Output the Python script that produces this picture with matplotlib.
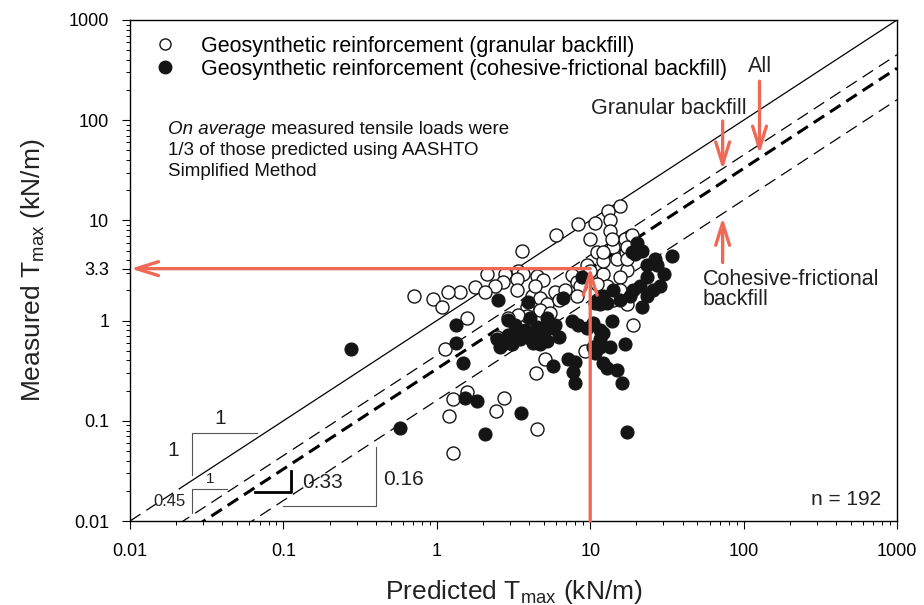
import numpy as np
import matplotlib.pyplot as plt
from matplotlib.lines import Line2D

plt.rcParams['font.family'] = ['Liberation Sans', 'DejaVu Sans']
plt.rcParams['mathtext.fontset'] = 'custom'
plt.rcParams['mathtext.rm'] = 'Liberation Sans'
plt.rcParams['lines.scale_dashes'] = False

RED = '#EF6A56'

# Geosynthetic reinforcement, granular backfill (predicted, measured) kN/m
gran_x = [15.6, 13.0, 13.4, 10.7, 8.3, 5.96, 9.9, 13.4, 16.8, 18.6,
          3.58, 11.0, 14.0, 14.9, 17.5, 9.5, 12.1, 15.6, 2.12, 2.77,
          3.37, 3.63, 4.48, 4.91, 2.69, 3.32, 2.39, 1.77, 1.41, 1.18,
          0.94, 1.08, 0.71, 3.32, 4.16, 5.87, 7.57, 8.17, 8.55, 8.17,
          4.69, 3.86, 5.21, 4.69, 3.86, 3.37, 2.90, 1.57, 2.46, 1.13,
          17.3, 18.9, 9.2, 5.05, 4.42, 1.57, 1.27, 2.73, 2.42, 1.20,
          4.48, 1.27, 6.3, 5.45, 2.05, 4.35, 14.0, 12.8, 17.2, 13.8,
          12.1, 9.9, 11.0, 15.6, 6.8, 17.3, 17.3, 12.1]
gran_y = [13.8, 12.3, 10.2, 9.5, 9.3, 7.2, 6.5, 7.8, 6.5, 7.2,
          4.9, 4.8, 5.4, 4.1, 3.2, 3.6, 2.9, 2.7, 2.95, 2.95,
          3.1, 2.95, 2.8, 2.57, 2.45, 2.63, 2.19, 2.14, 1.91, 1.91,
          1.66, 1.38, 1.78, 2.04, 1.74, 1.95, 2.88, 2.45, 2.19, 1.74,
          1.70, 1.38, 1.45, 1.29, 1.10, 1.15, 1.07, 1.07, 0.69, 0.52,
          1.45, 0.91, 0.50, 0.41, 0.30, 0.195, 0.166, 0.17, 0.126, 0.112,
          0.083, 0.048, 1.62, 1.20, 1.95, 2.19, 1.62, 2.19, 4.8, 6.5,
          3.9, 3.1, 2.3, 2.04, 2.04, 5.4, 4.1, 4.8]

# Geosynthetic reinforcement, cohesive-frictional backfill
coh_x = [0.275, 0.574, 1.33, 1.33, 1.48, 1.52, 1.82, 2.05, 3.52, 17.3,
         2.90, 2.50, 3.92, 6.62, 5.21, 5.70, 7.13, 7.69, 7.93, 8.29,
         13.8, 21.7, 12.1, 16.8, 12.1, 14.9, 16.0, 7.93, 10.7, 11.5,
         12.8, 20.1, 21.7, 18.6, 23.3, 26.3, 34.0, 30.5, 23.3, 8.9,
         28.4, 21.0, 23.3, 18.1, 12.1, 10.7, 3.22, 3.74, 4.35, 5.05,
         5.87, 3.47, 4.69, 6.3, 4.04, 2.69, 2.46, 3.32, 3.86, 4.48,
         5.70, 2.57, 3.08, 7.57, 11.0, 11.5, 12.8, 14.0, 15.6, 18.9,
         25.5, 10.4, 11.5, 11.5, 10.4, 13.4, 19.5, 27.1, 9.5, 4.69,
         4.22, 5.21, 2.90]
coh_y = [0.52, 0.085, 0.91, 0.60, 0.38, 0.17, 0.158, 0.074, 0.12, 0.078,
         1.02, 1.62, 1.55, 1.70, 1.07, 0.35, 0.41, 0.31, 0.24, 0.91,
         0.98, 1.38, 0.76, 0.58, 0.38, 0.32, 0.24, 0.39, 0.48, 0.55,
         0.34, 6.0, 4.9, 4.8, 3.6, 4.1, 4.4, 2.9, 2.75, 2.75,
         2.19, 2.19, 1.74, 1.74, 1.74, 1.51, 0.91, 0.81, 0.72, 0.81,
         0.91, 0.65, 0.58, 0.68, 1.07, 0.58, 0.65, 0.76, 0.69, 0.87,
         0.85, 0.55, 0.58, 0.98, 1.62, 1.45, 1.51, 2.04, 1.62, 2.04,
         2.04, 0.95, 0.81, 0.65, 0.55, 0.55, 4.6, 3.6, 0.85, 0.81,
         0.60, 0.62, 0.72]

# bias lines: measured = k * predicted
k_granular = 0.45
k_all = 0.33
k_cohesive = 0.16

x_ticks = [0.01, 0.1, 1, 10, 100, 1000]
x_labels = ['0.01', '0.1', '1', '10', '100', '1000']
y_ticks = [0.01, 0.1, 1, 3.3, 10, 100, 1000]
y_labels = ['0.01', '0.1', '1', '3.3', '10', '100', '1000']

fig = plt.figure(figsize=(9.24, 6.05), dpi=100)
ax = fig.add_axes([130 / 924, 84 / 605, 767 / 924, 501 / 605])
ax.set_xscale('log')
ax.set_yscale('log')
ax.set_xlim(0.01, 1000)
ax.set_ylim(0.01, 1000)

# 1:1 line and the three bias lines
xx = np.array([0.01, 1000.0])
ax.plot([0.01, 0.021], [0.01, 0.021], color='k', lw=0.9, dashes=(9, 5), zorder=2)
ax.plot([0.021, 1000], [0.021, 1000], color='k', lw=0.9, zorder=2)
ax.plot(xx, k_granular * xx, color='k', lw=0.9, dashes=(9, 5), zorder=2)
ax.plot(xx, k_all * xx, color='k', lw=2.2, dashes=(9, 5), zorder=2)
ax.plot(xx, k_cohesive * xx, color='k', lw=0.9, dashes=(9, 5), zorder=2)

# data points
ax.scatter(gran_x, gran_y, s=88, facecolors='white', edgecolors='#151515',
           linewidths=1.0, zorder=3)
ax.scatter(coh_x, coh_y, s=88, facecolors='#151515', edgecolors='#151515',
           linewidths=0.8, zorder=4)

# slope triangles
tri = dict(color='#555555', lw=0.8, zorder=2)
ax.plot([0.0252, 0.0252, 0.0668], [0.0288, 0.0759, 0.0759], **tri)
ax.plot([0.0252, 0.0252, 0.0427], [0.0119, 0.0207, 0.0207], **tri)
ax.plot([0.0652, 0.1115, 0.1115], [0.0196, 0.0196, 0.0318], color='k', lw=2, zorder=2)
ax.plot([0.0997, 0.401, 0.401], [0.0141, 0.0141, 0.0553], **tri)
ax.text(0.0386, 0.105, '1', fontsize=15, ha='center', va='center', color='#222')
ax.text(0.019, 0.051, '1', fontsize=15, ha='center', va='center', color='#222')
ax.text(0.0332, 0.0263, '1', fontsize=11, ha='center', va='center', color='#222')
ax.text(0.0182, 0.0155, '0.45', fontsize=12, ha='center', va='center', color='#222')
ax.text(0.1315, 0.0245, '0.33', fontsize=15, ha='left', va='center', color='#222')
ax.text(0.447, 0.0257, '0.16', fontsize=15, ha='left', va='center', color='#222')

# red arrows
arr = dict(arrowstyle='->,head_length=1.6,head_width=0.5', color=RED, lw=2.4,
           mutation_scale=10, shrinkA=0, shrinkB=0)
ax.annotate('', xy=(10, 3.4), xytext=(10, 0.01), arrowprops=arr, zorder=6)
ax.annotate('', xy=(0.0101, 3.3), xytext=(10, 3.3), arrowprops=arr, zorder=6)
ax.annotate('', xy=(73, 32), xytext=(73, 98), arrowprops=arr, zorder=6)
ax.annotate('', xy=(127, 46), xytext=(127, 245), arrowprops=arr, zorder=6)
ax.annotate('', xy=(73, 10.7), xytext=(73, 3.8), arrowprops=arr, zorder=6)

# labels on the chart
ax.text(127, 340, 'All', fontsize=15.5, ha='center', va='center', color='#222')
ax.text(32.5, 131, 'Granular backfill', fontsize=15.5, ha='center', va='center', color='#222')
ax.text(54, 2.57, 'Cohesive-frictional', fontsize=15.5, ha='left', va='center', color='#222')
ax.text(54, 1.62, 'backfill', fontsize=15.5, ha='left', va='center', color='#222')
ax.text(0.979, 0.043, 'n = 192', transform=ax.transAxes, fontsize=15,
        ha='right', va='center', color='#222')

t1 = ax.text(0.0495, 0.782, 'On average', transform=ax.transAxes, fontsize=13.5,
             style='italic', ha='left', va='center', color='#111')
ax.annotate(' measured tensile loads were', xy=(1, 0.5), xycoords=t1, fontsize=13.5,
            ha='left', va='center', color='#111')
ax.text(0.0495, 0.739, '1/3 of those predicted using AASHTO', transform=ax.transAxes,
        fontsize=13.5, ha='left', va='center', color='#111')
ax.text(0.0495, 0.697, 'Simplified Method', transform=ax.transAxes,
        fontsize=13.5, ha='left', va='center', color='#111')

# legend
handles = [Line2D([], [], marker='o', ls='', mfc='white', mec='#151515', ms=8, mew=1.0),
           Line2D([], [], marker='o', ls='', mfc='#151515', mec='#151515', ms=9)]
ax.legend(handles, ['Geosynthetic reinforcement (granular backfill)',
                    'Geosynthetic reinforcement (cohesive-frictional backfill)'],
          loc='upper left', bbox_to_anchor=(0.031, 0.969), frameon=False, fontsize=15.5,
          handlelength=1.0, handletextpad=1.2, labelspacing=0.1, borderpad=0,
          borderaxespad=0)

# axes styling
ax.set_xticks(x_ticks)
ax.set_xticklabels(x_labels)
ax.set_yticks(y_ticks)
ax.set_yticklabels(y_labels)
ax.tick_params(which='major', direction='out', length=6, width=0.8, labelsize=13,
               top=False, right=False)
ax.tick_params(which='minor', direction='out', length=3.2, width=0.7, top=False, right=False)
ax.tick_params(axis='x', which='major', pad=10)
ax.tick_params(axis='y', which='major', pad=9)
for sp in ax.spines.values():
    sp.set_linewidth(1.0)

fig.text(513.5 / 924, 1 - 592 / 605, r'Predicted T$_{\rm max}$ (kN/m)', fontsize=19,
         ha='center', va='center', color='#222')
fig.text(33 / 924, 1 - 270 / 605, r'Measured T$_{\rm max}$ (kN/m)', fontsize=19,
         ha='center', va='center', rotation=90, color='#222')

fig.savefig('out.png', dpi=100)
